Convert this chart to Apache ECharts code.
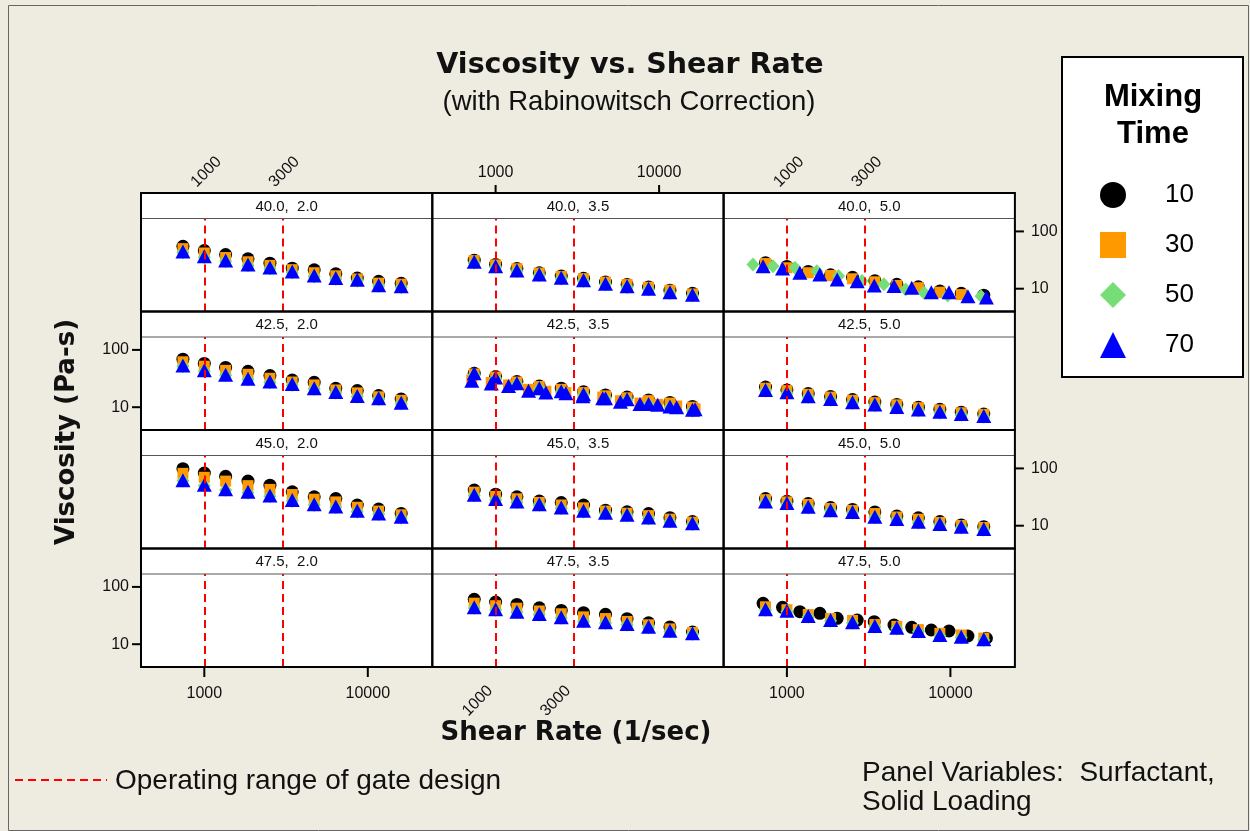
<!DOCTYPE html>
<html><head><meta charset="utf-8">
<script src="https://cdn.jsdelivr.net/npm/echarts@6/dist/echarts.min.js"></script>
<style>html,body{margin:0;padding:0;background:#EEEBE1;}#c{width:1250px;height:831px;}</style>
</head><body><div id="c"></div>
<script>
// ---------------- data ----------------
const rowLabels = ['40.0', '42.5', '45.0', '47.5'];   // Surfactant
const colLabels = ['2.0', '3.5', '5.0'];              // Solid Loading
const seriesNames = ['10', '30', '50', '70'];         // Mixing Time
const xTickValues = [1000, 10000];
const refLineValues = [1000, 3000];
const yTickValues = [10, 100];

// shear rates (1/sec)
const xStd = [740, 1000, 1350, 1850, 2520, 3450, 4700, 6370, 8620, 11650, 16000];
const xAlt = [715, 940, 1200, 1590, 2030, 2690, 3420, 4520, 5800, 7640, 9800, 12800, 16600];
const xDia = [620, 822, 1120, 1525, 2070, 2880, 3920, 5330, 6890, 9620, 15400];

// viscosity (Pa-s)
const v40_20_10 = [55, 46.3, 39.5, 33.2, 27.9, 22.8, 21.4, 18.2, 15.3, 13.5, 12.4];
const v40_20_30 = [50, 42, 35, 29.5, 25.5, 21.5, 19, 16.8, 14.8, 12.5, 12];
const v40_20_50 = [43, 35.5, 30, 25.5, 22.5, 19.2, 16.4, 14.8, 13.8, 11.1, 10.6];
const v40_20_70 = [44.5, 36.9, 31, 26.4, 23.4, 20, 17, 15.3, 14.3, 11.5, 11];

const v40_35_10 = [31.5, 26.5, 22.5, 19, 16.6, 15.2, 13.1, 11.8, 10.7, 9.4, 8.3];
const v40_35_30 = [31, 26, 22.3, 18.8, 16.4, 15, 13, 11.8, 10.6, 9.4, 8.1];
const v40_35_50 = [28.5, 24, 20.2, 17.2, 15, 13.6, 11.8, 10.6, 9.7, 8.4, 7.6];
const v40_35_70 = [29.4, 24.7, 20.8, 17.7, 15.5, 14.1, 12.2, 11.0, 10.0, 8.7, 7.85];

const v40_50_10 = [28.5, 24.5, 20, 17.5, 15.8, 13.8, 11.9, 10.8, 9.1, 8.3, 7.7];
const v40_50_30 = [27.5, 23.2, 19, 17, 14.9, 13.2, 11.4, 10.4, 8.7, 7.9];
const v40_50_50 = [26.4, 24.7, 23.2, 20.2, 16.6, 13.6, 11.9, 9.7, 8.5, 7.6, 7.4];
const v40_50_70 = [24.7, 22.5, 19, 17.7, 14.5, 13.5, 11.4, 11.1, 10.4, 8.7, 8.7, 7.4, 7.0];

const v425_20_10 = [69, 58, 49.5, 42.3, 35.6, 29.8, 27.2, 21.4, 19.5, 16, 13.9];
const v425_20_30 = [62, 52, 44, 37.5, 32, 27.5, 24.5, 20, 17.8, 15.2, 13.2];
const v425_20_50 = [52, 42.5, 36, 30.5, 27, 24.5, 20.7, 17.8, 15.2, 13.8, 11.6];
const v425_20_70 = [53.7, 44, 37, 31.5, 28, 25.4, 21.4, 18.4, 15.7, 14.3, 12.0];

const v425_35_10 = [39, 34.2, 28, 23.5, 21.5, 18.7, 16.4, 15, 13.4, 12.1, 10.3];
const v425_35_30 = [38, 33.5, 27.5, 23, 20.5, 18, 15.8, 14.6, 13, 11.8, 10];
const v425_35_30b = [30, 27, 24.5, 20.5, 19, 18, 16, 15, 13, 11.8, 11.2, 10.5, 9.3];
const v425_35_50 = [37, 32, 25.5, 21, 18.5, 16.3, 14, 13.4, 11.1, 10, 8.7];
const v425_35_70 = [39, 33, 26.2, 21.5, 19, 16.8, 14.4, 13.8, 11.4, 10.3, 9];
const v425_35_70b = [29, 26, 23.5, 19.3, 18, 17.5, 15.5, 14.4, 12.5, 11.4, 11, 10, 9.2];

const v425_50_10 = [22.5, 20, 17.3, 15.3, 13.6, 12.3, 11.2, 10, 9.2, 8.2, 7.6];
const v425_50_30 = [21.5, 19.5, 16.8, 15, 13.2, 12, 11, 9.8, 9, 8, 7.5];
const v425_50_50 = [19.3, 17.6, 15, 13.4, 11.8, 10.7, 9.8, 8.8, 8, 7.4, 6.8];
const v425_50_70 = [20, 18.2, 15.5, 13.9, 12.2, 11.1, 10.1, 9.1, 8.3, 7.6, 7.05];

const v45_20_10 = [99, 83, 73, 60, 51, 39, 32, 29.8, 22.9, 19.5, 16.4];
const v45_20_30 = [82, 70, 60, 50, 43, 35, 29, 26, 21, 18, 15.5];
const v45_20_50 = [61, 50, 42, 37.5, 32.5, 27, 23, 21, 17.6, 15.8, 13.8];
const v45_20_70 = [62.3, 51.6, 43.4, 39, 33.6, 28, 23.8, 21.6, 18.2, 16.4, 14.3];

const v45_35_10 = [42, 35.5, 32, 27, 25.4, 23, 18.7, 17.5, 16.3, 13.8, 11.8];
const v45_35_30 = [38.5, 32.5, 29.5, 25.5, 23, 20.5, 18, 16.5, 15, 13, 11.5];
const v45_35_50 = [33.5, 28.3, 25.6, 23, 20.2, 17.6, 16.3, 15, 13.4, 11.8, 10.6];
const v45_35_70 = [34.6, 29.1, 26.4, 23.8, 20.8, 18.2, 16.8, 15.5, 13.9, 12.2, 11];

const v45_50_10 = [29.8, 26.8, 24.4, 20.8, 19.2, 17.4, 14.8, 13.7, 11.8, 10.3, 9.6];
const v45_50_30 = [28.5, 26, 23.5, 20, 18.5, 16.3, 14.2, 13, 11.4, 10.1, 9.3];
const v45_50_50 = [25.8, 24, 20.8, 18.2, 16.8, 13.9, 12.7, 11.3, 10.4, 9.3, 8.5];
const v45_50_70 = [26.4, 24.8, 21.4, 18.7, 17.3, 14.3, 13.1, 11.7, 10.7, 9.6, 8.75];

const v475_35_10 = [60.7, 54.4, 49.4, 43.3, 38.8, 35.5, 33.3, 27.9, 23.6, 20, 16.3];
const v475_35_30 = [52, 47, 42.5, 38, 34, 30, 28, 25, 21.8, 18.5, 16];
const v475_35_50 = [43, 39.5, 36, 32.7, 28.6, 25, 23.5, 21.9, 19.6, 16.7, 15];
const v475_35_70 = [44, 40.6, 36.9, 33.6, 29.4, 25.7, 24.1, 22.5, 20.2, 17.2, 15.5];

const v475_50_10 = [51.6, 44, 36.9, 34.6, 28.3, 26.4, 24.7, 21.6, 19.7, 17.7, 17, 13.9, 12.7];
const v475_50_30 = [45, 40, 33, 28, 26, 22, 20.5, 18, 15.5, 14.5, 12.8];
const v475_50_50 = [39.5, 37.3, 30, 25.6, 23.4, 20.2, 18.8, 16.5, 14, 13.1, 11.8];
const v475_50_70 = [40.6, 38.4, 31, 26.4, 24.1, 20.8, 19.4, 17, 14.5, 13.5, 12.2];

// panel -> [series name, x array, y array]
const panels = [
  {r: 0, c: 0, sets: [['10', xStd, v40_20_10], ['30', xStd, v40_20_30], ['50', xStd, v40_20_50], ['70', xStd, v40_20_70]]},
  {r: 0, c: 1, sets: [['10', xStd, v40_35_10], ['30', xStd, v40_35_30], ['50', xStd, v40_35_50], ['70', xStd, v40_35_70]]},
  {r: 0, c: 2, sets: [['10', xStd, v40_50_10], ['30', xStd, v40_50_30], ['50', xDia, v40_50_50], ['70', xAlt, v40_50_70]]},
  {r: 1, c: 0, sets: [['10', xStd, v425_20_10], ['30', xStd, v425_20_30], ['50', xStd, v425_20_50], ['70', xStd, v425_20_70]]},
  {r: 1, c: 1, sets: [['10', xStd, v425_35_10], ['30', xStd, v425_35_30], ['30', xAlt, v425_35_30b], ['50', xStd, v425_35_50], ['70', xStd, v425_35_70], ['70', xAlt, v425_35_70b]]},
  {r: 1, c: 2, sets: [['10', xStd, v425_50_10], ['30', xStd, v425_50_30], ['50', xStd, v425_50_50], ['70', xStd, v425_50_70]]},
  {r: 2, c: 0, sets: [['10', xStd, v45_20_10], ['30', xStd, v45_20_30], ['50', xStd, v45_20_50], ['70', xStd, v45_20_70]]},
  {r: 2, c: 1, sets: [['10', xStd, v45_35_10], ['30', xStd, v45_35_30], ['50', xStd, v45_35_50], ['70', xStd, v45_35_70]]},
  {r: 2, c: 2, sets: [['10', xStd, v45_50_10], ['30', xStd, v45_50_30], ['50', xStd, v45_50_50], ['70', xStd, v45_50_70]]},
  {r: 3, c: 0, sets: []},
  {r: 3, c: 1, sets: [['10', xStd, v475_35_10], ['30', xStd, v475_35_30], ['50', xStd, v475_35_50], ['70', xStd, v475_35_70]]},
  {r: 3, c: 2, sets: [['10', xAlt, v475_50_10], ['30', xStd, v475_50_30], ['50', xStd, v475_50_50], ['70', xStd, v475_50_70]]}
];

// ---------------- layout & style ----------------
const SANS = '"Liberation Sans", Arial, sans-serif';
const WIDE = '"DejaVu Sans", Verdana, sans-serif';
const COL_L = 141, COL_W = 291.3, ROW_T = 193, STRIP_H = 25.5, PLOT_H = 93, ROW_P = 118.5;
const X_MIN = 410, X_MAX = 24800, Y_MIN = 4, Y_MAX = 168;

const markerStyle = {
  '10': {symbol: 'circle', symbolSize: 13, itemStyle: {color: '#000000', opacity: 1}},
  '30': {symbol: 'rect', symbolSize: 11, itemStyle: {color: '#FF9900', opacity: 1}},
  '50': {symbol: 'diamond', symbolSize: [13, 14], itemStyle: {color: '#77DD77', opacity: 1}},
  '70': {symbol: 'triangle', symbolSize: [15, 14], itemStyle: {color: '#0000FF', opacity: 1}}
};

const chart = echarts.init(document.getElementById('c'));
const grids = [], xAxes = [], yAxes = [], series = [];
const hidden = {axisLine: {show: false}, axisTick: {show: false}, axisLabel: {show: false}, splitLine: {show: false}};

panels.forEach((p, i) => {
  grids.push({left: COL_L + p.c * COL_W, top: ROW_T + p.r * ROW_P + STRIP_H, width: COL_W, height: PLOT_H,
    show: true, backgroundColor: '#ffffff', borderWidth: 0});
  xAxes.push(Object.assign({type: 'log', logBase: 10, gridIndex: i, min: X_MIN, max: X_MAX}, hidden));
  yAxes.push(Object.assign({type: 'log', logBase: 10, gridIndex: i, min: Y_MIN, max: Y_MAX}, hidden));
  series.push({type: 'line', name: 'ref', xAxisIndex: i, yAxisIndex: i, data: [], silent: true,
    markLine: {symbol: 'none', silent: true, animation: false, label: {show: false},
      lineStyle: {color: '#FF0000', type: [8, 5], width: 2},
      data: refLineValues.map(v => ({xAxis: v}))}});
  p.sets.forEach(([name, xs, ys]) => {
    series.push(Object.assign({type: 'scatter', name, xAxisIndex: i, yAxisIndex: i, silent: true,
      data: ys.map((y, k) => [xs[k], y])}, markerStyle[name]));
  });
});

chart.setOption({
  animation: false,
  backgroundColor: '#EEEBE1',
  grid: grids, xAxis: xAxes, yAxis: yAxes, series,
  legend: {data: seriesNames, orient: 'vertical', left: 1095, top: 177, itemWidth: 26, itemHeight: 26, itemGap: 24,
    selectedMode: false, textStyle: {fontSize: 26, fontFamily: SANS, color: '#000', padding: [0, 0, 0, 34]}}
});

// ---------------- decorations (positions from the chart's own scales) ----------------
const els = [];
function txt(x, y, text, font, align, vAlign, rot, color) {
  els.push({type: 'text', x, y, rotation: rot || 0, z: 60, silent: true,
    style: {text, font, fill: color || '#111', align: align, textAlign: align, verticalAlign: vAlign, textVerticalAlign: vAlign}});
}
function ln(x1, y1, x2, y2, stroke, lw, dash) {
  els.push({type: 'line', z: 55, silent: true, shape: {x1, y1, x2, y2}, style: {stroke, lineWidth: lw, lineDash: dash || null}});
}
// page frame
els.push({type: 'rect', z: 0, silent: true, shape: {x: 8.5, y: 5.5, width: 1240, height: 825}, style: {fill: null, stroke: '#666', lineWidth: 1}});

const TICK_FONT = '16px ' + SANS;
panels.forEach((p, i) => {
  const left = COL_L + p.c * COL_W, stripTop = ROW_T + p.r * ROW_P, plotTop = stripTop + STRIP_H, plotBot = plotTop + PLOT_H;
  els.push({type: 'rect', z: 1, silent: true, shape: {x: left, y: stripTop, width: COL_W, height: STRIP_H}, style: {fill: '#fff', stroke: null}});
  ln(left, plotTop, left + COL_W, plotTop, '#555', 1);
  els.push({type: 'rect', z: 56, silent: true, shape: {x: left, y: stripTop, width: COL_W, height: STRIP_H + PLOT_H}, style: {fill: null, stroke: '#000', lineWidth: 2}});
  txt(left + COL_W / 2, stripTop + STRIP_H / 2 + 1, rowLabels[p.r] + ',  ' + colLabels[p.c], '15px ' + SANS, 'center', 'middle');

  const px = v => chart.convertToPixel({xAxisIndex: i}, v);
  const py = v => chart.convertToPixel({yAxisIndex: i}, v);
  if (p.r === 0) {
    if (p.c === 1) {
      xTickValues.forEach(v => { const x = px(v); ln(x, stripTop - 8, x, stripTop, '#000', 2); txt(x, stripTop - 20, String(v), TICK_FONT, 'center', 'middle'); });
    } else {
      refLineValues.forEach(v => { const x = px(v); txt(x + 2, stripTop - 21, String(v), TICK_FONT, 'center', 'middle', Math.PI / 4); });
    }
  }
  if (p.r === 3) {
    if (p.c === 1) {
      refLineValues.forEach(v => { const x = px(v); txt(x - 18, plotBot + 34, String(v), TICK_FONT, 'center', 'middle', Math.PI / 4); });
    } else {
      xTickValues.forEach(v => { const x = px(v); ln(x, plotBot, x, plotBot + 10, '#000', 2); txt(x, plotBot + 27, String(v), TICK_FONT, 'center', 'middle'); });
    }
  }
  if (p.c === 0 && (p.r === 1 || p.r === 3)) {
    yTickValues.forEach(v => { const y = py(v); ln(left - 9, y, left, y, '#000', 2); txt(left - 12, y, String(v), TICK_FONT, 'right', 'middle'); });
  }
  if (p.c === 2 && (p.r === 0 || p.r === 2)) {
    yTickValues.forEach(v => { const y = py(v); ln(left + COL_W, y, left + COL_W + 9, y, '#000', 2); txt(left + COL_W + 16, y, String(v), TICK_FONT, 'left', 'middle'); });
  }
});

// titles
txt(630, 66, 'Viscosity vs. Shear Rate', 'bold 28.5px ' + WIDE, 'center', 'middle');
txt(629, 102, '(with Rabinowitsch Correction)', '27.5px ' + SANS, 'center', 'middle');
txt(67, 432, 'Viscosity (Pa-s)', 'bold 26px ' + WIDE, 'center', 'middle', Math.PI / 2);
txt(576, 733, 'Shear Rate (1/sec)', 'bold 26px ' + WIDE, 'center', 'middle');
// legend box + title
els.push({type: 'rect', z: 1, silent: true, shape: {x: 1062, y: 57, width: 181, height: 320}, style: {fill: '#fff', stroke: '#000', lineWidth: 2}});
txt(1153, 97, 'Mixing', 'bold 31px ' + SANS, 'center', 'middle', 0, '#000');
txt(1153, 134, 'Time', 'bold 31px ' + SANS, 'center', 'middle', 0, '#000');
// footnotes
ln(15, 780, 107, 780, '#FF0000', 2, [8, 5]);
txt(115, 781, 'Operating range of gate design', '28px ' + SANS, 'left', 'middle');
txt(862, 773, 'Panel Variables:  Surfactant,', '28px ' + SANS, 'left', 'middle');
txt(862, 802, 'Solid Loading', '28px ' + SANS, 'left', 'middle');

chart.setOption({graphic: {elements: els}});
</script></body></html>
